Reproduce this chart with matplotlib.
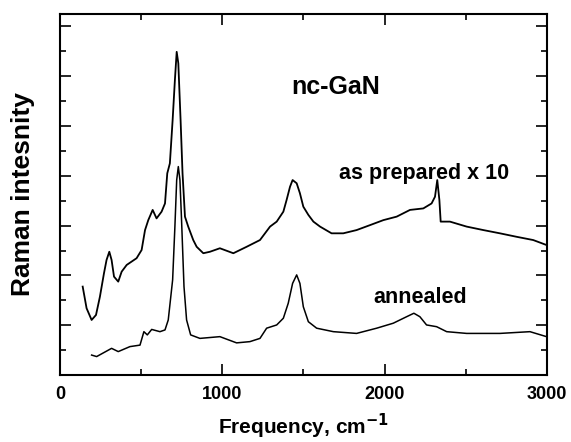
import matplotlib
matplotlib.use("Agg")
import matplotlib.pyplot as plt
from matplotlib.ticker import MultipleLocator

plt.rcParams['font.family'] = ['Liberation Sans', 'DejaVu Sans']
plt.rcParams['font.weight'] = 'bold'

# as prepared x 10
prep_x = [140, 164, 195, 222, 246, 271, 287, 304, 318, 333, 359, 380, 411, 472, 503,
          524, 544, 571, 595, 626, 647, 661, 677, 694, 708, 719, 729, 743, 755, 770,
          790, 821, 842, 883, 924, 985, 1068, 1150, 1232, 1294, 1335, 1376, 1396,
          1417, 1433, 1458, 1478, 1499, 1530, 1561, 1602, 1673, 1745, 1827, 1910,
          1992, 2074, 2156, 2238, 2289, 2310, 2324, 2337, 2345, 2402, 2505, 2608,
          2710, 2813, 2915, 2997]
prep_y = [3.55, 2.68, 2.21, 2.41, 3.14, 4.08, 4.62, 4.95, 4.62, 3.95, 3.75, 4.15,
          4.42, 4.69, 5.02, 5.82, 6.22, 6.63, 6.29, 6.56, 6.89, 8.10, 8.50, 10.24,
          11.85, 12.98, 12.52, 10.24, 8.10, 6.36, 5.96, 5.42, 5.15, 4.89, 4.95,
          5.09, 4.89, 5.15, 5.42, 5.96, 6.16, 6.56, 7.03, 7.56, 7.83, 7.70, 7.30,
          6.76, 6.43, 6.16, 5.96, 5.69, 5.69, 5.82, 6.02, 6.22, 6.36, 6.63, 6.69,
          6.89, 7.16, 7.83, 7.03, 6.16, 6.16, 5.96, 5.82, 5.69, 5.55, 5.42, 5.22]

# annealed
ann_x = [195, 226, 318, 359, 431, 493, 517, 538, 565, 616, 647, 667, 694, 708, 719,
         729, 739, 749, 764, 780, 805, 862, 985, 1088, 1170, 1232, 1273, 1335, 1376,
         1406, 1433, 1458, 1478, 1499, 1530, 1581, 1684, 1827, 1951, 2053, 2135,
         2180, 2217, 2258, 2320, 2382, 2505, 2710, 2895, 2997]
ann_y = [0.80, 0.74, 1.07, 0.94, 1.14, 1.20, 1.74, 1.61, 1.83, 1.74, 1.81, 2.21,
         3.82, 5.96, 7.83, 8.37, 7.83, 6.22, 3.55, 2.21, 1.61, 1.47, 1.54, 1.29,
         1.34, 1.47, 1.88, 2.01, 2.28, 2.88, 3.68, 4.02, 3.68, 2.74, 2.14, 1.88,
         1.74, 1.67, 1.88, 2.08, 2.34, 2.48, 2.34, 2.01, 1.94, 1.74, 1.67, 1.67,
         1.74, 1.54]

fig = plt.figure(figsize=(5.71, 4.42), dpi=100)
ax = fig.add_axes([0.105, 0.1516, 0.853, 0.8168])

ax.plot(prep_x, prep_y, color='black', lw=1.3)
ax.plot(ann_x, ann_y, color='black', lw=1.1)

ax.set_xlim(0, 3000)
ax.set_ylim(0, 14.5)
ax.xaxis.set_major_locator(MultipleLocator(1000))
ax.xaxis.set_minor_locator(MultipleLocator(500))
ax.yaxis.set_major_locator(MultipleLocator(2))
ax.yaxis.set_minor_locator(MultipleLocator(1))
ax.tick_params(which='both', direction='in', top=True, right=True, width=1.2)
ax.tick_params(which='major', length=8, labelsize=13, pad=8)
ax.tick_params(which='minor', length=4)
ax.set_yticklabels([])
for s in ax.spines.values():
    s.set_linewidth(1.5)

ax.set_xlabel('Frequency, cm$^{\\mathbf{-1}}$', fontsize=15, fontweight='bold', labelpad=6)
ax.set_ylabel('Raman intesnity', fontsize=19, fontweight='bold', labelpad=10)

ax.text(1700, 11.57, 'nc-GaN', fontsize=18, fontweight='bold', ha='center', va='center')
ax.text(2242, 8.11, 'as prepared x 10', fontsize=15.5, fontweight='bold', ha='center', va='center')
ax.text(2218, 3.13, 'annealed', fontsize=15.5, fontweight='bold', ha='center', va='center')

fig.savefig('out.png', dpi=100)
